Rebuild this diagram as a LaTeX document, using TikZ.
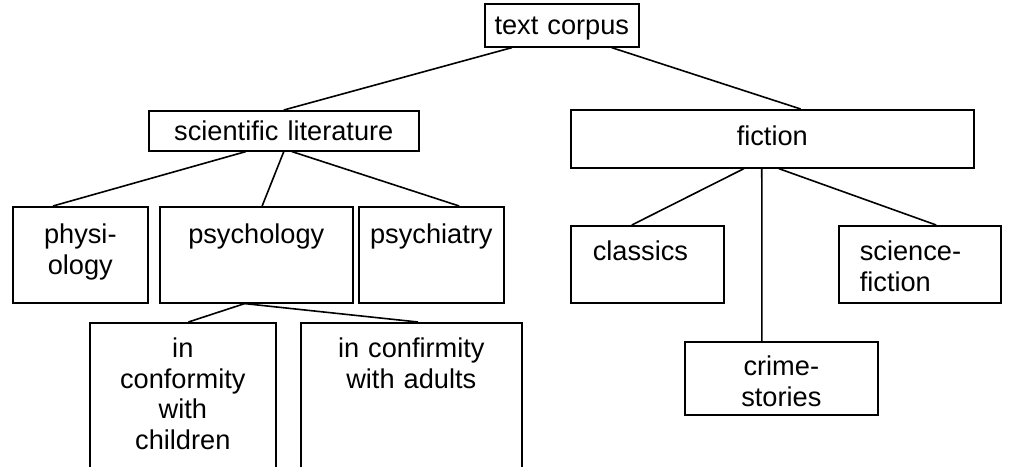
\documentclass[tikz,border=0pt]{standalone}
\usepackage{fontspec}
\setmainfont{Liberation Sans}
\usetikzlibrary{positioning, calc}

\begin{document}
\begin{tikzpicture}[x=0.5pt, y=-0.5pt,
    box/.style={draw, line width=0.8pt, anchor=north west, inner sep=0pt,
      align=center, font=\fontsize{13.6}{15.2}\selectfont},
    link/.style={line width=0.8pt}]
  \clip (0,0) rectangle (1020,466);

  % Top level
  \node[box, text width=77pt, text height=15.5pt, text depth=6pt] (corpus) at (484,3) {text corpus};

  % Second level
  \node[box, text width=135pt, text height=15pt, text depth=5pt] (scilit) at (148,110) {scientific literature};
  \node[box, text width=201.5pt, text height=18pt, text depth=11pt] (fiction) at (570,109) {fiction};

  % Branches of scientific literature
  \node[box, text width=67.5pt, text height=18.5pt, text depth=29.5pt] (physio) at (12,206) {physi-\\ology};
  \node[box, text width=96.5pt, text height=18.5pt, text depth=29.5pt] (psycho) at (159,206) {psychology};
  \node[box, text width=72.5pt, text height=18.5pt, text depth=29.5pt] (psychia) at (358,206) {psychiatry};

  \node[box, text width=93pt, text height=17.5pt, text depth=57.5pt] (children) at (89,322) {in\\conformity\\with\\children};
  \node[box, text width=110.5pt, text height=17.5pt, text depth=57.5pt] (adults) at (300,322) {in confirmity\\with adults};

  % Branches of fiction
  \node[box, align=left, inner xsep=11pt, text width=54.5pt, text height=17.5pt, text depth=21pt] (classics) at (570,225) {classics};
  \node[box, align=left, inner xsep=10.5pt, text width=60pt, text height=17.5pt, text depth=21pt] (scifi) at (838,225) {science-\\fiction};
  \node[box, text width=96.5pt, text height=17pt, text depth=19.5pt] (crime) at (684,341) {crime-\\stories};

  % Connectors
  \draw[link] ($(corpus.south west)!.18!(corpus.south east)$) -- (scilit.north);
  \draw[link] ($(corpus.south west)!.82!(corpus.south east)$) -- ($(fiction.north west)!.57!(fiction.north east)$);

  \draw[link] ($(scilit.south west)!.36!(scilit.south east)$) -- ($(physio.north west)!.3!(physio.north east)$);
  \draw[link] ($(scilit.south west)!.5!(scilit.south east)$) -- ($(psycho.north west)!.53!(psycho.north east)$);
  \draw[link] ($(scilit.south west)!.53!(scilit.south east)$) -- ($(psychia.north west)!.69!(psychia.north east)$);

  \draw[link] ($(psycho.south west)!.44!(psycho.south east)$) -- ($(children.north west)!.53!(children.north east)$);
  \draw[link] ($(psycho.south west)!.44!(psycho.south east)$) -- ($(adults.north west)!.53!(adults.north east)$);

  \draw[link] ($(fiction.south west)!.43!(fiction.south east)$) -- ($(classics.north west)!.4!(classics.north east)$);
  \draw[link] ($(fiction.south west)!.474!(fiction.south east)$) -- ($(crime.north west)!.4!(crime.north east)$);
  \draw[link] ($(fiction.south west)!.516!(fiction.south east)$) -- ($(scifi.north west)!.6!(scifi.north east)$);
\end{tikzpicture}
\end{document}
